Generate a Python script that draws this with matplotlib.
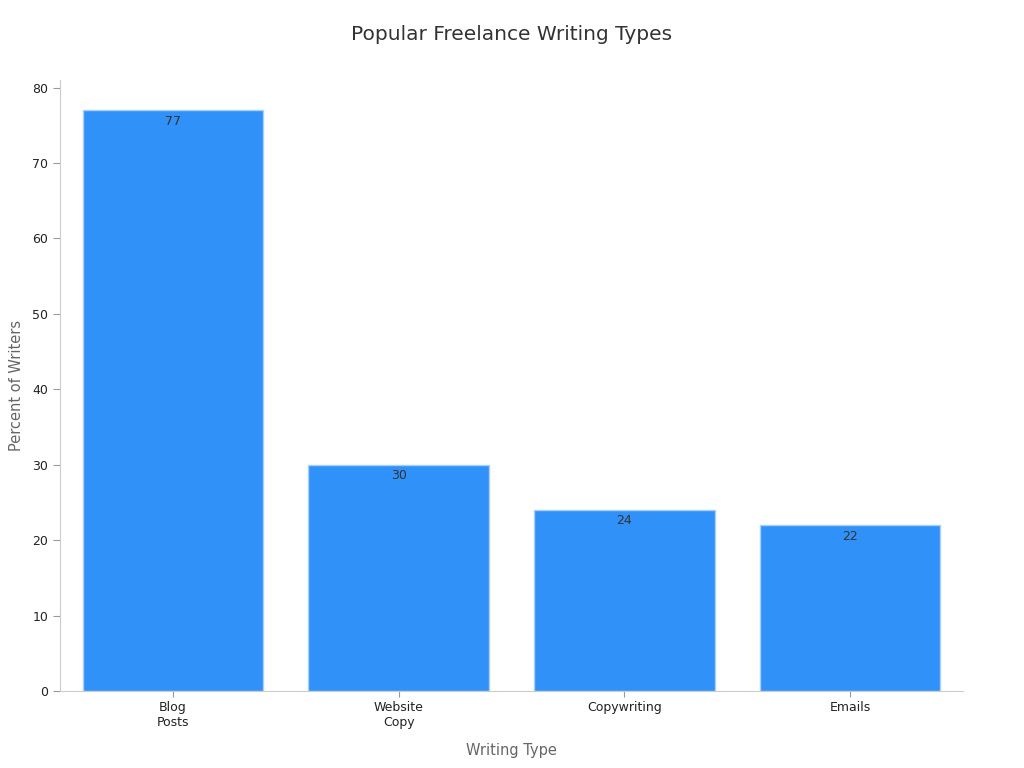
import matplotlib.pyplot as plt
import numpy as np

# Data
categories = ["Blog\nPosts", "Website\nCopy", "Copywriting", "Emails"]
percents = [77, 30, 24, 22]

fig = plt.figure(figsize=(10.24, 7.68), dpi=100)
ax = fig.add_axes([60 / 1024, 1 - 691 / 768, 903 / 1024, 611 / 768])

x = np.arange(len(categories))
bars = ax.bar(x, percents, width=0.8, color="#3091f8", edgecolor="#a9cff7", linewidth=1)

for xi, v in zip(x, percents):
    ax.text(xi, v - 0.6, str(v), ha="center", va="top", fontsize=9, color="#333333")

ax.set_xlim(-0.5, 3.5)
ax.set_ylim(0, 81)
ax.set_yticks(range(0, 81, 10))
ax.set_xticks(x)
ax.set_xticklabels(categories, fontsize=9, color="#222222")
ax.tick_params(axis="y", labelsize=9, labelcolor="#222222", color="#999999", length=5)
ax.tick_params(axis="x", color="#999999", length=4)

for s in ["top", "right"]:
    ax.spines[s].set_visible(False)
for s in ["left", "bottom"]:
    ax.spines[s].set_color("#cccccc")

ax.set_xlabel("Writing Type", fontsize=10.5, color="#666666", labelpad=10)
ax.set_ylabel("Percent of Writers", fontsize=10.5, color="#666666", labelpad=6)
fig.suptitle("Popular Freelance Writing Types", fontsize=14.5, color="#333333", y=0.968)

fig.savefig("out.png", dpi=100)
